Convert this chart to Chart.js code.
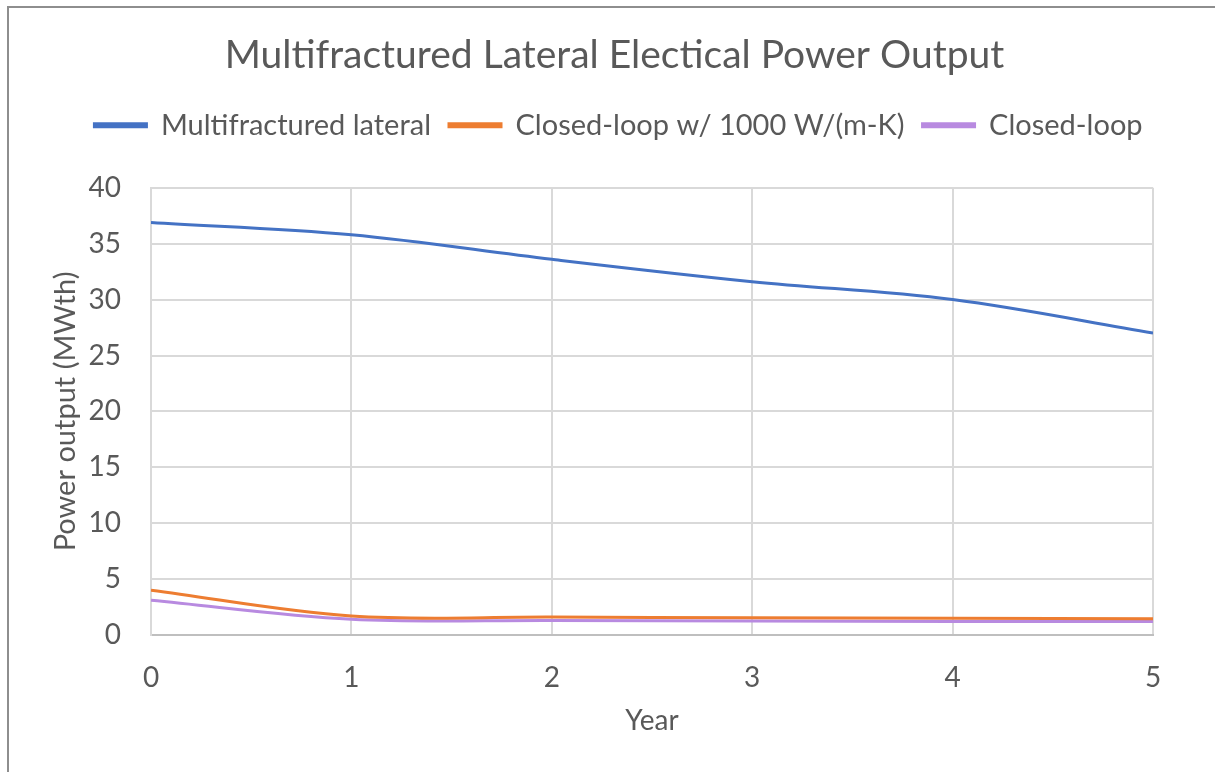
<!DOCTYPE html>
<html lang="en">
<head>
  <meta charset="UTF-8" />
  <title>Multifractured Lateral Electical Power Output</title>
  <script src="https://cdn.jsdelivr.net/npm/chart.js"></script>
  <style>
    * { margin: 0; padding: 0; box-sizing: border-box; }
    html, body { width: 1215px; height: 772px; background: #fff; overflow: hidden; }
    body { position: relative; }
    .frame {
      position: absolute; left: 7px; top: 6px; width: 1208px; height: 766px;
      border-left: 2px solid #8e8e8e; border-top: 2px solid #8e8e8e;
    }
    canvas { position: absolute; left: 0; top: 0; }
  </style>
</head>
<body>
  <div class="frame"></div>
  <canvas id="chart" width="1215" height="772"></canvas>

  <script>
    // data
    const years = [0, 1, 2, 3, 4, 5];
    const multifractured = [36.9, 35.8, 33.6, 31.6, 30.0, 27.0];
    const closedLoop1000 = [4.0, 1.7, 1.6, 1.55, 1.5, 1.45];
    const closedLoop = [3.1, 1.4, 1.3, 1.25, 1.2, 1.2];
    const yTicks = [0, 5, 10, 15, 20, 25, 30, 35, 40];

    const FONT = 'Lato, "Open Sans", sans-serif';
    const GREY = '#595959';

    const pts = (vals) => years.map((x, i) => ({ x: x, y: vals[i] }));
    const series = (label, vals, color) => ({
      label: label,
      data: pts(vals),
      borderColor: color,
      backgroundColor: color,
      borderWidth: 3,
      pointRadius: 0,
      tension: 0.35
    });

    // excel centres title + legend on the whole frame, not the plot;
    // nudge them right and leave extra room under the legend
    const headerTweaks = {
      id: 'headerTweaks',
      beforeInit(chart) {
        const fit = chart.legend.fit;
        chart.legend.fit = function () {
          fit.call(this);
          this.height += 38;
        };
        const shift = (box, dx) => {
          const draw = box.draw;
          box.draw = function () {
            const ctx = this.ctx;
            ctx.save();
            ctx.translate(dx, 0);
            draw.apply(this, arguments);
            ctx.restore();
          };
        };
        shift(chart.legend, 22);
        shift(chart.titleBlock, 18);
      }
    };

    new Chart(document.getElementById('chart'), {
      type: 'line',
      data: {
        datasets: [
          series('Multifractured lateral', multifractured, '#4472c4'),
          series('Closed-loop w/ 1000 W/(m-K)', closedLoop1000, '#ed7d31'),
          series('Closed-loop', closedLoop, '#b88ae0')
        ]
      },
      options: {
        responsive: false,
        animation: false,
        layout: { padding: { left: 40, right: 62, top: 32, bottom: 30 } },
        plugins: {
          title: {
            display: true,
            text: 'Multifractured Lateral Electical Power Output',
            color: GREY,
            font: { family: FONT, size: 39, weight: 'normal' },
            padding: { top: 0, bottom: 14 }
          },
          legend: {
            labels: {
              color: GREY,
              font: { family: FONT, size: 29 },
              boxWidth: 52,
              boxHeight: 3,
              padding: 18
            }
          },
          tooltip: { enabled: false }
        },
        scales: {
          x: {
            type: 'linear',
            min: 0,
            max: 5,
            grid: { color: '#d9d9d9', lineWidth: 2, drawTicks: false },
            border: { color: '#bfbfbf', width: 2 },
            ticks: { stepSize: 1, color: GREY, padding: 26, font: { family: FONT, size: 28 } },
            title: { display: true, text: 'Year', color: GREY, font: { family: FONT, size: 28 }, padding: { top: 5 } },
            afterFit: (s) => { s.height = 107; }
          },
          y: {
            min: 0,
            max: 40,
            grid: { color: '#d9d9d9', lineWidth: 2, drawTicks: false },
            border: { color: '#d9d9d9', width: 2 },
            afterBuildTicks: (s) => { s.ticks = yTicks.map(v => ({ value: v })); },
            ticks: { color: GREY, padding: 30, font: { family: FONT, size: 28 } },
            title: { display: true, text: 'Power output (MWth)', color: GREY, font: { family: FONT, size: 29 }, padding: { top: 8, bottom: 0 } },
            afterFit: (s) => { s.width = 111; }
          }
        }
      },
      plugins: [headerTweaks]
    });
  </script>
</body>
</html>
